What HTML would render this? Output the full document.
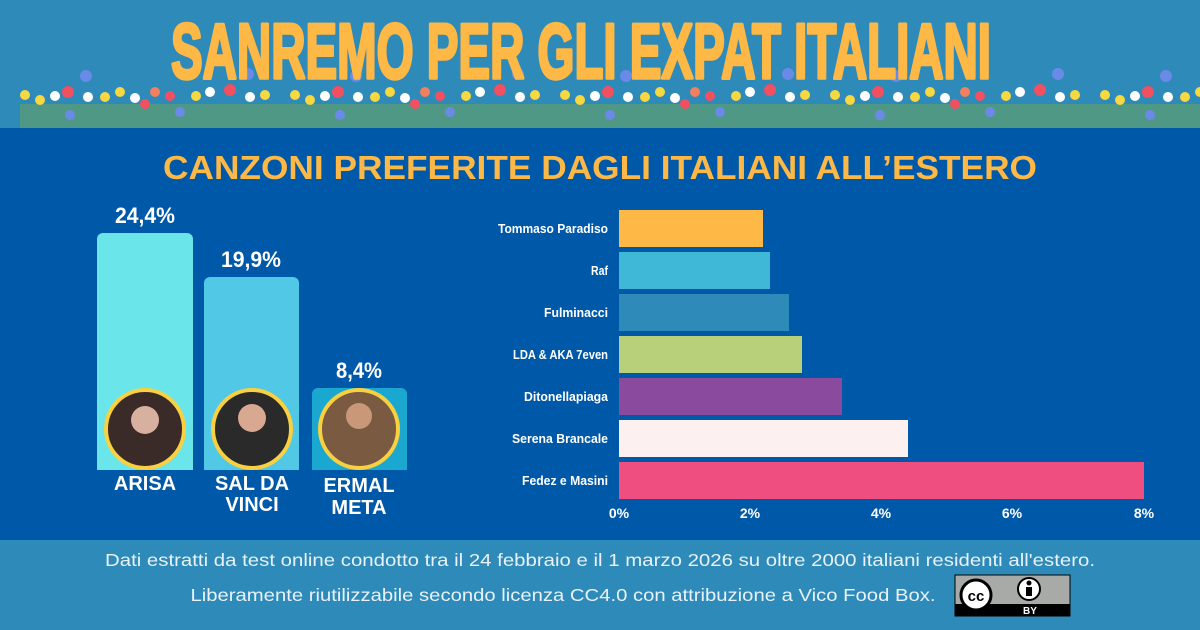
<!DOCTYPE html>
<html><head><meta charset="utf-8"><style>html,body{margin:0;padding:0;width:1200px;height:630px;overflow:hidden}</style></head>
<body>
<svg width="1200" height="630" viewBox="0 0 1200 630" xmlns="http://www.w3.org/2000/svg" font-family="Liberation Sans, sans-serif">
<rect width="1200" height="630" fill="#2e8ab8"/>
<rect y="128" width="1200" height="412" fill="#0059a8"/>
<g>
<rect x="20" y="104" width="1180" height="24" fill="#7aa84a" opacity="0.45"/>
<g id="fl">
<circle cx="25" cy="95" r="5" fill="#f8d840"/><circle cx="40" cy="100" r="5" fill="#f8d840"/><circle cx="55" cy="96" r="5" fill="#fff"/><circle cx="68" cy="92" r="6" fill="#f05060"/><circle cx="86" cy="76" r="6" fill="#6a8ae8"/><circle cx="88" cy="97" r="5" fill="#fff"/><circle cx="70" cy="115" r="5" fill="#6a8ae8"/><circle cx="105" cy="97" r="5" fill="#f8d840"/><circle cx="120" cy="92" r="5" fill="#f8d840"/><circle cx="135" cy="98" r="5" fill="#fff"/><circle cx="145" cy="104" r="5" fill="#f05060"/><circle cx="155" cy="92" r="5" fill="#f08060"/><circle cx="170" cy="96" r="5" fill="#f05060"/><circle cx="180" cy="112" r="5" fill="#6a8ae8"/><circle cx="196" cy="96" r="5" fill="#f8d840"/><circle cx="210" cy="92" r="5" fill="#fff"/><circle cx="230" cy="90" r="6" fill="#f05060"/><circle cx="248" cy="74" r="6" fill="#6a8ae8"/><circle cx="250" cy="97" r="5" fill="#fff"/><circle cx="265" cy="95" r="5" fill="#f8d840"/>
</g>
<use href="#fl" x="270"/><use href="#fl" x="540"/><use href="#fl" x="810"/><use href="#fl" x="1080"/>
</g>
<text x="581" y="78" fill="#fdb846" stroke="#fdb846" stroke-width="3.5" stroke-linejoin="round" font-weight="bold" font-size="78" text-anchor="middle" textLength="820" lengthAdjust="spacingAndGlyphs">SANREMO PER GLI EXPAT ITALIANI</text>
<text x="600" y="179" fill="#fdb846" font-weight="bold" font-size="33" text-anchor="middle" textLength="874" lengthAdjust="spacingAndGlyphs">CANZONI PREFERITE DAGLI ITALIANI ALL’ESTERO</text>
<rect x="97" y="233" width="96" height="245" rx="6" fill="#6ae6ea"/>
<rect x="204" y="277" width="95" height="201" rx="6" fill="#50c8e6"/>
<rect x="312" y="388" width="95" height="90" rx="6" fill="#1aa8d0"/>
<rect x="90" y="470" width="330" height="70" fill="#0059a8"/>
<g fill="#fff" font-weight="bold" text-anchor="middle" font-size="22">
<text x="145" y="223" textLength="60" lengthAdjust="spacingAndGlyphs">24,4%</text><text x="251" y="267" textLength="60" lengthAdjust="spacingAndGlyphs">19,9%</text><text x="359" y="378" textLength="46" lengthAdjust="spacingAndGlyphs">8,4%</text>
</g>
<g stroke="#f8d040" stroke-width="4">
<circle cx="145" cy="429" r="39" fill="#3a2a28"/><circle cx="252" cy="429" r="39" fill="#2a2a2a"/><circle cx="359" cy="429" r="39" fill="#7a5a40"/>
</g>
<circle cx="145" cy="420" r="14" fill="#d8b0a0"/><circle cx="252" cy="418" r="14" fill="#d8a890"/><circle cx="359" cy="416" r="13" fill="#c89878"/>
<g fill="#fff" font-weight="bold" text-anchor="middle" font-size="20">
<text x="145" y="490">ARISA</text><text x="252" y="490">SAL DA</text><text x="252" y="511">VINCI</text><text x="359" y="492">ERMAL</text><text x="359" y="514">META</text>
</g>
<g>
<rect x="619" y="210" width="144" height="37" fill="#fdb846"/>
<rect x="619" y="252" width="151" height="37" fill="#3fb8d8"/>
<rect x="619" y="294" width="170" height="37" fill="#2e8ab8"/>
<rect x="619" y="336" width="183" height="37" fill="#b8d07a"/>
<rect x="619" y="378" width="223" height="37" fill="#8a4a9e"/>
<rect x="619" y="420" width="289" height="37" fill="#fdf0f0"/>
<rect x="619" y="462" width="525" height="37" fill="#ee4e80"/>
</g>
<g fill="#fff" font-weight="bold" font-size="13" text-anchor="end">
<text x="608" y="233" textLength="110" lengthAdjust="spacingAndGlyphs">Tommaso Paradiso</text><text x="608" y="275" textLength="17" lengthAdjust="spacingAndGlyphs">Raf</text><text x="608" y="317" textLength="64" lengthAdjust="spacingAndGlyphs">Fulminacci</text><text x="608" y="359" textLength="95" lengthAdjust="spacingAndGlyphs">LDA &amp; AKA 7even</text><text x="608" y="401" textLength="84" lengthAdjust="spacingAndGlyphs">Ditonellapiaga</text><text x="608" y="443" textLength="96" lengthAdjust="spacingAndGlyphs">Serena Brancale</text><text x="608" y="485" textLength="86" lengthAdjust="spacingAndGlyphs">Fedez e Masini</text>
</g>
<g fill="#fff" font-weight="bold" font-size="14" text-anchor="middle">
<text x="619" y="518">0%</text><text x="750" y="518">2%</text><text x="881" y="518">4%</text><text x="1012" y="518">6%</text><text x="1144" y="518">8%</text>
</g>
<g fill="#e8f2f8" font-size="17.5" text-anchor="middle">
<text x="600" y="566" textLength="990" lengthAdjust="spacingAndGlyphs">Dati estratti da test online condotto tra il 24 febbraio e il 1 marzo 2026 su oltre 2000 italiani residenti all'estero.</text>
<text x="563" y="601" textLength="745" lengthAdjust="spacingAndGlyphs">Liberamente riutilizzabile secondo licenza CC4.0 con attribuzione a Vico Food Box.</text>
</g>
<rect x="955" y="575" width="115" height="41" fill="#a8aaa8" stroke="#000" stroke-width="1"/>
<rect x="955" y="604" width="115" height="12" fill="#000"/>
<text x="1030" y="614" fill="#fff" font-size="10" font-weight="bold" text-anchor="middle">BY</text>
<circle cx="976" cy="595" r="15" fill="#fff" stroke="#000" stroke-width="3"/>
<text x="976" y="601" font-size="15" font-weight="bold" text-anchor="middle">cc</text>
<circle cx="1029" cy="589" r="11" fill="#fff" stroke="#000" stroke-width="2"/>
<circle cx="1029" cy="583" r="2.5" fill="#000"/><rect x="1026" y="587" width="6" height="9" fill="#000"/>
</svg>
</body></html>
